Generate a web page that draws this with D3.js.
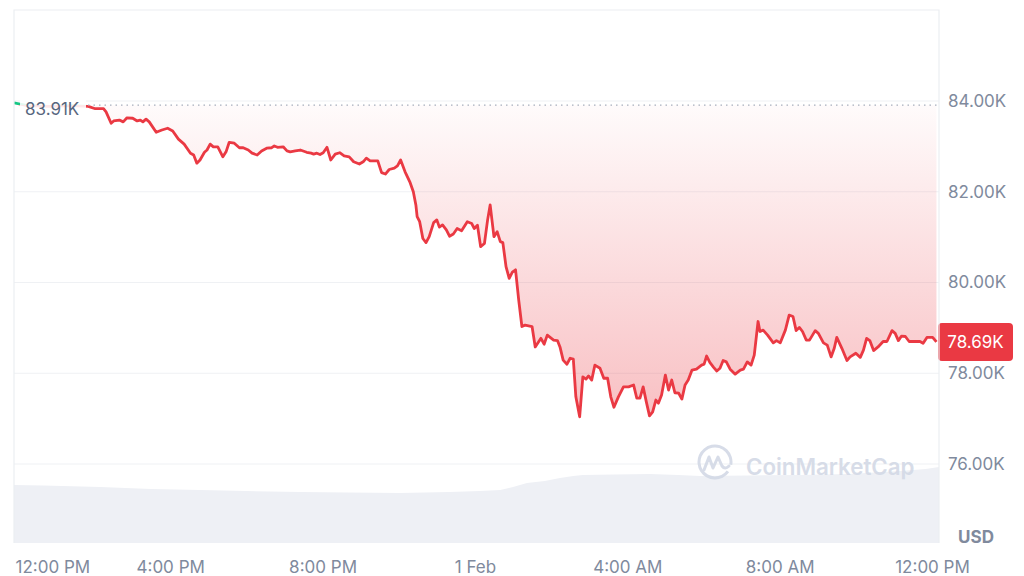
<!DOCTYPE html>
<html><head><meta charset="utf-8">
<script src="https://cdn.jsdelivr.net/npm/d3@7/dist/d3.min.js"></script>
<style>
html,body{margin:0;padding:0;background:#fff;}
svg{display:block;font-family:Inter,"Noto Sans",sans-serif;}
</style>
</head><body>
<svg id="chart" width="1024" height="576"></svg>
<script>
// ---- DATA (minutes after 12:00 PM, 31 Jan; price in USD) ----
const priceSeries = [
[-6,83960],[15,83900],[50,83880],[85,83900],[111,83880],[122,83830],[135,83830],[139,83760],[147,83510],[151,83560],
[160,83580],[166,83540],[172,83630],[181,83620],[188,83560],[193,83580],[197,83540],[202,83600],[207,83540],[218,83310],
[227,83360],[236,83400],[244,83340],[253,83160],[262,83050],[272,82850],[277,82810],[282,82630],[287,82700],[294,82870],
[298,82920],[303,83050],[308,82990],[315,82990],[323,82770],[328,82880],[333,83090],[341,83070],[349,82970],[355,82970],
[363,82920],[369,82850],[377,82810],[384,82900],[392,82960],[400,82970],[404,83010],[409,82980],[418,82990],[424,82900],
[429,82880],[437,82900],[445,82920],[455,82870],[462,82850],[466,82830],[471,82850],[476,82820],[481,82860],[487,82980],
[493,82700],[500,82830],[507,82860],[514,82790],[522,82770],[529,82660],[538,82610],[544,82660],[549,82740],[555,82680],
[567,82680],[573,82420],[579,82390],[585,82490],[593,82520],[598,82570],[603,82700],[610,82440],[618,82200],[623,82000],
[627,81710],[629,81450],[633,81340],[638,80970],[643,80880],[648,81010],[655,81320],[660,81380],[664,81220],[669,81270],
[675,81160],[680,81020],[686,81070],[692,81190],[699,81140],[708,81340],[715,81300],[719,81190],[724,81260],[729,80790],
[735,80860],[740,81380],[744,81710],[750,81010],[755,81120],[760,80900],[764,80880],[769,80350],[774,80090],[779,80230],
[784,80280],[789,79610],[794,79030],[799,79060],[810,79030],[815,78580],[824,78770],[829,78640],[834,78840],[844,78730],
[850,78720],[854,78580],[859,78290],[865,78200],[870,78330],[875,78310],[879,77480],[885,77040],[890,77920],[895,77870],
[899,77940],[904,77850],[909,78180],[917,78110],[923,77890],[929,77890],[934,77480],[939,77250],[946,77480],[954,77700],
[962,77700],[970,77740],[975,77450],[980,77450],[985,77700],[990,77370],[995,77060],[1000,77150],[1005,77410],[1009,77340],
[1014,77520],[1020,77960],[1025,77630],[1030,77850],[1035,77570],[1041,77560],[1046,77430],[1051,77740],[1056,77850],[1062,78070],
[1069,78090],[1077,78180],[1081,78200],[1085,78380],[1090,78240],[1096,78130],[1101,78050],[1106,78110],[1111,78280],[1116,78250],
[1122,78090],[1130,77980],[1138,78070],[1143,78090],[1149,78250],[1155,78180],[1160,78400],[1166,79140],[1169,78920],[1174,78950],
[1181,78840],[1190,78670],[1195,78720],[1201,78670],[1209,78950],[1215,79280],[1221,79250],[1226,78940],[1231,79010],[1236,78920],
[1242,78730],[1247,78730],[1256,78940],[1261,78880],[1269,78670],[1275,78620],[1281,78360],[1286,78550],[1290,78790],[1298,78550],
[1306,78280],[1311,78360],[1320,78440],[1327,78350],[1332,78510],[1337,78770],[1342,78720],[1348,78500],[1355,78580],[1363,78700],
[1369,78700],[1377,78940],[1382,78880],[1387,78720],[1392,78820],[1398,78810],[1404,78700],[1413,78700],[1421,78700],[1426,78660],
[1432,78790],[1441,78790],[1447,78690]
];
// volume (billions USD, 24h rolling) at minutes after 12:00 PM
const volumeSeries = [
[-6,58],[40,57.5],[130,56],[210,54],[287,53],[360,52],[445,51],[520,50.5],[602,50],[680,51],[728,52],
[760,53],[780,56],[802,60],[830,62],[854,65],[875,67],[890,68],[940,68.5],[996,69],[1040,68],[1075,67],
[1150,67.5],[1232,68],[1310,69],[1390,72],[1430,74],[1451,76]
];
const yTicks = [76000, 78000, 80000, 82000, 84000];
const openPrice = 83910;
const lastPrice = 78690;
const domainMinutes = [-6, 1451];

// ---- SETUP ----
const base = Date.UTC(2026, 0, 31, 12, 0);
const T = m => new Date(base + m * 60000);
const L = 14, R = 939, TOP = 10, BOTTOM = 543;
const RED = "#ea3943", GREEN = "#16c784", AXIS = "#808a9d";
const FS = 17;

const svg = d3.select("#chart");
const x = d3.scaleUtc().domain(domainMinutes.map(T)).range([L, R]);
const y = d3.scaleLinear().domain([76000, 84000]).range([464, 101]);
const yv = d3.scaleLinear().domain([0, 100]).range([BOTTOM, BOTTOM - 100]);

const data = priceSeries.map(([m, p]) => ({t: T(m), p}));
const vdata = volumeSeries.map(([m, v]) => ({t: T(m), v}));

const defs = svg.append("defs");
const grad = defs.append("linearGradient").attr("id", "redGrad")
  .attr("gradientUnits", "userSpaceOnUse")
  .attr("x1", 0).attr("x2", 0).attr("y1", y(openPrice)).attr("y2", y(77000));
grad.append("stop").attr("offset", 0).attr("stop-color", RED).attr("stop-opacity", 0.02);
grad.append("stop").attr("offset", 1).attr("stop-color", RED).attr("stop-opacity", 0.32);
defs.append("clipPath").attr("id", "above").append("rect")
  .attr("x", L).attr("y", TOP).attr("width", R - L).attr("height", y(openPrice) - TOP);
defs.append("clipPath").attr("id", "below").append("rect")
  .attr("x", L).attr("y", y(openPrice)).attr("width", R - L).attr("height", BOTTOM - y(openPrice));

// grid
svg.append("g").selectAll("line").data(yTicks).join("line")
  .attr("x1", L).attr("x2", R).attr("y1", d => y(d)).attr("y2", d => y(d))
  .attr("stroke", "#eff1f4").attr("stroke-width", 1);

// volume area
svg.append("path").datum(vdata)
  .attr("d", d3.area().x(d => x(d.t)).y0(yv(0)).y1(d => yv(d.v)).curve(d3.curveLinear))
  .attr("fill", "#eef0f5");

// watermark
const wm = svg.append("g").attr("opacity", 0.9);
wm.append("path")
  .attr("d", d3.arc()({innerRadius: 14.5, outerRadius: 17.5, startAngle: 2.2, endAngle: 2 * Math.PI + 1.75}))
  .attr("transform", "translate(715,462)").attr("fill", "#d3d9e6");
wm.append("path")
  .attr("d", "M704,470 L709,457 L713,468 L718,457 L722,466 Q725,470 729,466")
  .attr("fill", "none").attr("stroke", "#d3d9e6").attr("stroke-width", 3).attr("stroke-linejoin", "round").attr("stroke-linecap", "round");
wm.append("text").attr("x", 746).attr("y", 475).text("CoinMarketCap")
  .attr("font-size", 22.3).attr("font-weight", 600).attr("fill", "#d3d9e6");

// fill between reference and price
svg.append("path").datum(data)
  .attr("clip-path", "url(#below)")
  .attr("d", d3.area().x(d => x(d.t)).y0(y(openPrice)).y1(d => y(d.p)))
  .attr("fill", "url(#redGrad)");

// price line (green above open, red below)
const line = d3.line().x(d => x(d.t)).y(d => y(d.p));
svg.append("path").datum(data).attr("clip-path", "url(#above)")
  .attr("d", line).attr("fill", "none").attr("stroke", GREEN).attr("stroke-width", 2.8).attr("stroke-linejoin", "round");
svg.append("path").datum(data).attr("clip-path", "url(#below)")
  .attr("d", line).attr("fill", "none").attr("stroke", RED).attr("stroke-width", 2.8).attr("stroke-linejoin", "round");

// dotted reference line
svg.append("line").attr("x1", 88).attr("x2", R).attr("y1", y(openPrice)).attr("y2", y(openPrice))
  .attr("stroke", "#a7afbd").attr("stroke-width", 1.3).attr("stroke-dasharray", "1.5,4");

// reference label
svg.append("rect").attr("x", 20).attr("y", y(openPrice) - 10).attr("width", 66).attr("height", 22)
  .attr("fill", "#fff").attr("opacity", 0.88);
svg.append("text").attr("x", 25).attr("y", y(openPrice) + 4).attr("dy", "0.35em")
  .text(d3.format(".2f")(openPrice / 1000) + "K")
  .attr("font-size", FS).attr("fill", "#58667e");

// y axis (right)
const yAxis = svg.append("g").attr("transform", `translate(${R},0)`)
  .call(d3.axisRight(y).tickValues(yTicks).tickSize(0).tickPadding(9)
    .tickFormat(d => d3.format(".2f")(d / 1000) + "K"));
yAxis.select(".domain").remove();
yAxis.selectAll("text").attr("font-size", FS).attr("fill", AXIS).attr("font-family", "Inter, sans-serif");

// last price box
const ly = y(lastPrice);
svg.append("rect").attr("x", 938).attr("y", ly - 19).attr("width", 75).attr("height", 38).attr("rx", 4).attr("fill", RED);
svg.append("text").attr("x", 975.5).attr("y", ly).attr("dy", "0.36em").attr("text-anchor", "middle")
  .text(d3.format(".2f")(lastPrice / 1000) + "K").attr("font-size", FS).attr("fill", "#fff");

// x axis
const fmtTime = d3.utcFormat("%-I:%M %p"), fmtDay = d3.utcFormat("%-d %b");
const xAxis = svg.append("g").attr("transform", `translate(0,${BOTTOM})`)
  .call(d3.axisBottom(x).ticks(d3.utcHour.every(4)).tickSize(0).tickPadding(18)
    .tickFormat(d => d.getUTCHours() === 0 ? fmtDay(d) : fmtTime(d)));
xAxis.select(".domain").remove();
xAxis.selectAll("text").attr("font-size", FS).attr("fill", AXIS).attr("font-family", "Inter, sans-serif");
xAxis.selectAll(".tick").each(function(d) {
  const t = d3.select(this).select("text");
  const w = this.querySelector("text").getComputedTextLength();
  const cx = x(d);
  if (cx - w / 2 < 15) t.attr("text-anchor", "start").attr("x", 15 - cx);
});

// USD
svg.append("text").attr("x", 976).attr("y", 543).attr("text-anchor", "middle").text("USD")
  .attr("font-size", FS).attr("font-weight", 700).attr("fill", AXIS);

// frame
svg.append("path").attr("d", `M${L},${BOTTOM} V${TOP} H${R} V${BOTTOM}`)
  .attr("fill", "none").attr("stroke", "#eceef2").attr("stroke-width", 1.2);
</script>
</body></html>
